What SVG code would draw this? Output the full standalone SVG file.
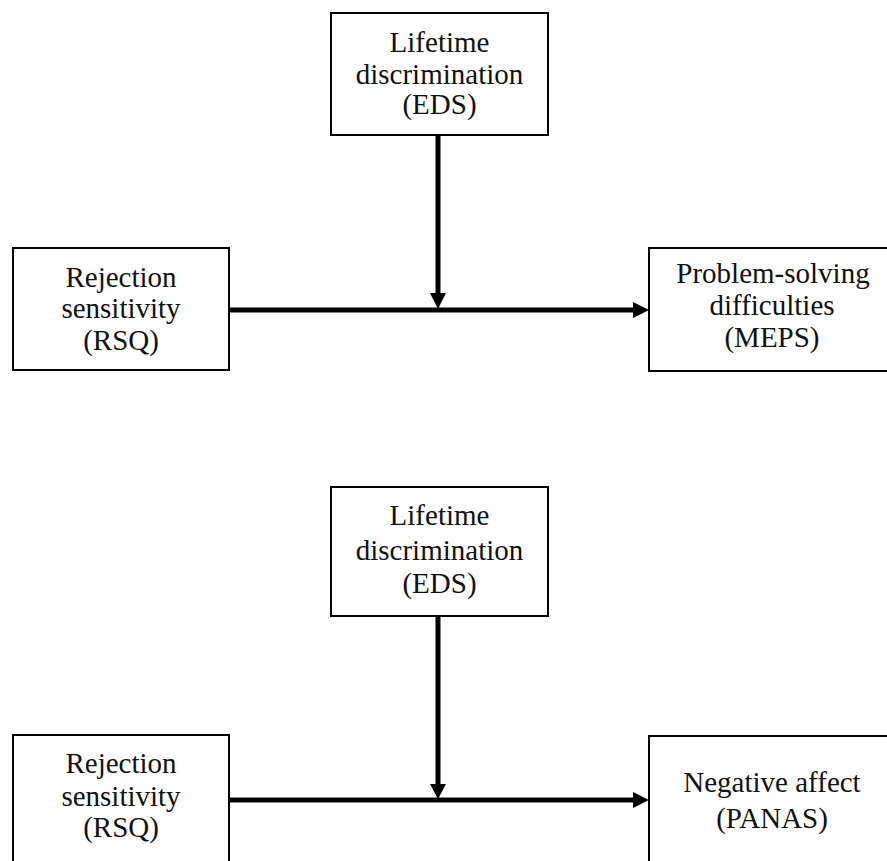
<svg xmlns="http://www.w3.org/2000/svg" width="887" height="861" viewBox="0 0 887 861">
<style>
.box{fill:#fff;stroke:#000;stroke-width:2}
.t{font-family:"Liberation Serif","Times New Roman",serif;font-size:29px;fill:#111;text-anchor:middle}
.c{stroke:#000;stroke-width:5;fill:none}
.h{fill:#000}
</style>
<rect width="887" height="861" fill="#fff"/>
<g id="connectors">
<line class="c" x1="229" y1="310" x2="634" y2="310"/>
<polygon class="h" points="633,302 649,310 633,318"/>
<line class="c" x1="438" y1="135" x2="438" y2="295"/>
<polygon class="h" points="430,293 438,309 446,293"/>
<line class="c" x1="229" y1="800" x2="634" y2="800"/>
<polygon class="h" points="633,792 649,800 633,808"/>
<line class="c" x1="438" y1="616" x2="438" y2="786"/>
<polygon class="h" points="430,784 438,799 446,784"/>
</g>
<g id="eds1">
<rect class="box" x="331" y="13" width="217" height="122"/>
<text class="t" x="439.5" y="52">Lifetime</text>
<text class="t" x="439.5" y="84">discrimination</text>
<text class="t" x="439.5" y="114">(EDS)</text>
</g>
<g id="rsq1">
<rect class="box" x="13" y="248" width="216" height="122"/>
<text class="t" x="121" y="287">Rejection</text>
<text class="t" x="121" y="318">sensitivity</text>
<text class="t" x="121" y="350">(RSQ)</text>
</g>
<g id="meps">
<rect class="box" x="649" y="248" width="250" height="123"/>
<text class="t" x="773" y="283">Problem-solving</text>
<text class="t" x="772" y="315">difficulties</text>
<text class="t" x="772" y="347">(MEPS)</text>
</g>
<g id="eds2">
<rect class="box" x="331" y="487" width="217" height="129"/>
<text class="t" x="439.5" y="525">Lifetime</text>
<text class="t" x="439.5" y="560">discrimination</text>
<text class="t" x="439.5" y="593">(EDS)</text>
</g>
<g id="rsq2">
<rect class="box" x="13" y="735" width="216" height="140"/>
<text class="t" x="121" y="773">Rejection</text>
<text class="t" x="121" y="806">sensitivity</text>
<text class="t" x="121" y="837">(RSQ)</text>
</g>
<g id="panas">
<rect class="box" x="649" y="736" width="250" height="140"/>
<text class="t" x="772" y="792">Negative affect</text>
<text class="t" x="772" y="828">(PANAS)</text>
</g>
</svg>
